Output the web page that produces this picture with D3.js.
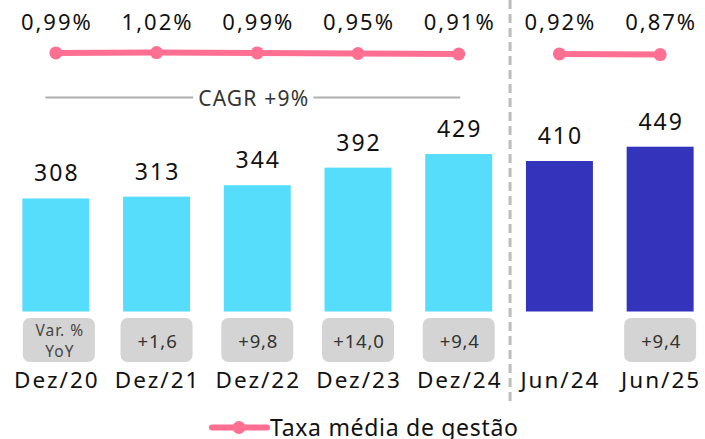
<!DOCTYPE html>
<html>
<head>
<meta charset="utf-8">
<script src="https://cdn.jsdelivr.net/npm/d3@7"></script>
<style>
  html, body { margin: 0; padding: 0; background: #fff; }
  svg { display: block; }
  text { font-family: "Noto Sans", sans-serif; }
</style>
</head>
<body>
<svg id="chart" width="705" height="439"></svg>
<script>
const categories = ["Dez/20", "Dez/21", "Dez/22", "Dez/23", "Dez/24", "Jun/24", "Jun/25"];
const aum = [308, 313, 344, 392, 429, 410, 449];
const fee = [0.99, 1.02, 0.99, 0.95, 0.91, 0.92, 0.87];
const yoy = [null, 1.6, 9.8, 14.0, 9.4, null, 9.4];
const groups = ["dez", "dez", "dez", "dez", "dez", "jun", "jun"];
const cagrLabel = "CAGR +9%";
const yoyHeader = ["Var. %", "YoY"];
const legendLabel = "Taxa média de gestão";

const COL_LIGHT = "#55DDFB";
const COL_DARK = "#3333BB";
const COL_PINK = "#FF6F91";

const svg = d3.select("#chart");

const x = d3.scaleBand().domain(categories).range([5.5, 710.5]).paddingInner(0.335).paddingOuter(0.1675);
const y = d3.scaleLinear().domain([0, 449]).range([311.5, 146.7]);
const yFee = d3.scaleLinear().domain([0.8, 1.1]).range([55.5, 51.5]);
const cx = c => x(c) + x.bandwidth() / 2;

const fmt = v => v.toFixed(1).replace(".", ",");
const fmtPct = v => v.toFixed(2).replace(".", ",") + "%";

// dashed separator
const sepX = (x("Dez/24") + x.bandwidth() + x("Jun/24")) / 2 + 1;
svg.append("line")
  .attr("x1", sepX).attr("x2", sepX).attr("y1", 0).attr("y2", 401)
  .attr("stroke", "#BDBDBD").attr("stroke-width", 3).attr("stroke-dasharray", "9,5");

// bars
svg.selectAll("rect.bar").data(categories).join("rect")
  .attr("class", "bar")
  .attr("x", d => x(d)).attr("width", x.bandwidth())
  .attr("y", (d, i) => y(aum[i])).attr("height", (d, i) => y(0) - y(aum[i]))
  .attr("fill", (d, i) => groups[i] === "dez" ? COL_LIGHT : COL_DARK);

// bar value labels
svg.selectAll("text.val").data(categories).join("text")
  .attr("class", "val")
  .attr("x", d => cx(d) + 1).attr("y", (d, i) => y(aum[i]) - 17)
  .attr("text-anchor", "middle").attr("font-size", 23).attr("letter-spacing", 2)
  .attr("fill", "#111")
  .text((d, i) => aum[i]);

// yoy boxes
const boxW = 72, boxH = 44, boxY = 318;
categories.forEach((c, i) => {
  if (i === 0) {
    svg.append("rect").attr("x", cx(c) - boxW / 2 + 3).attr("y", boxY).attr("width", boxW).attr("height", boxH)
      .attr("rx", 7).attr("fill", "#D4D4D4");
    svg.append("text").attr("x", cx(c) + 4).attr("y", boxY + 18).attr("text-anchor", "middle")
      .attr("font-size", 15.5).attr("letter-spacing", 1).attr("fill", "#444").text(yoyHeader[0]);
    svg.append("text").attr("x", cx(c) + 4).attr("y", boxY + 38.5).attr("text-anchor", "middle")
      .attr("font-size", 15.5).attr("letter-spacing", 1).attr("fill", "#444").text(yoyHeader[1]);
  } else if (yoy[i] !== null) {
    svg.append("rect").attr("x", cx(c) - boxW / 2).attr("y", boxY).attr("width", boxW).attr("height", boxH)
      .attr("rx", 7).attr("fill", "#D4D4D4");
    svg.append("text").attr("x", cx(c) + 1).attr("y", boxY + 29.5).attr("text-anchor", "middle")
      .attr("font-size", 18.5).attr("letter-spacing", 0.8).attr("fill", "#333").text("+" + fmt(yoy[i]));
  }
});

// category axis labels
const xAxis = d3.axisBottom(x).tickSize(0).tickPadding(0);
const gx = svg.append("g").attr("transform", "translate(1,372)").call(xAxis);
gx.select(".domain").remove();
gx.selectAll("text").attr("font-size", 22.5).attr("letter-spacing", 2).attr("fill", "#111")
  .attr("font-family", "'Noto Sans', sans-serif").attr("dy", "0.71em");

// fee line per group
const line = d3.line().x(d => cx(d.c)).y(d => yFee(d.v));
["dez", "jun"].forEach(g => {
  const pts = categories.map((c, i) => ({ c, v: fee[i], g: groups[i] })).filter(d => d.g === g);
  svg.append("path").datum(pts).attr("d", line).attr("fill", "none")
    .attr("stroke", COL_PINK).attr("stroke-width", 6);
  svg.selectAll(null).data(pts).join("circle")
    .attr("cx", d => cx(d.c)).attr("cy", d => yFee(d.v)).attr("r", 6.5).attr("fill", COL_PINK);
});
svg.selectAll("text.pct").data(categories).join("text")
  .attr("class", "pct")
  .attr("x", d => cx(d) + 1).attr("y", 30)
  .attr("text-anchor", "middle").attr("font-size", 22).attr("letter-spacing", 2).attr("fill", "#111")
  .text((d, i) => fmtPct(fee[i]));

// CAGR line
const cagrX1 = x("Dez/20") + 23, cagrX2 = x("Dez/24") + x.bandwidth() - 32;
const cagrMid = (cagrX1 + cagrX2) / 2 + 1;
const cagrText = svg.append("text").attr("x", cagrMid).attr("y", 106)
  .attr("text-anchor", "middle").attr("font-size", 21).attr("letter-spacing", 1.2).attr("fill", "#333")
  .text(cagrLabel);
const tw = cagrText.node().getComputedTextLength();
svg.append("line").attr("x1", cagrX1).attr("x2", cagrMid - tw / 2 - 5).attr("y1", 97.5).attr("y2", 97.5)
  .attr("stroke", "#B0B0B0").attr("stroke-width", 2);
svg.append("line").attr("x1", cagrMid + tw / 2 + 4).attr("x2", cagrX2).attr("y1", 97.5).attr("y2", 97.5)
  .attr("stroke", "#B0B0B0").attr("stroke-width", 2);

// legend
const lg = svg.append("g").attr("transform", "translate(212,427.5)");
lg.append("line").attr("x1", 0).attr("x2", 55).attr("y1", 0).attr("y2", 0)
  .attr("stroke", COL_PINK).attr("stroke-width", 6).attr("stroke-linecap", "round");
lg.append("circle").attr("cx", 27).attr("cy", 0).attr("r", 6.5).attr("fill", COL_PINK);
lg.append("text").attr("x", 58).attr("y", 8.5).attr("font-size", 23).attr("letter-spacing", 0.7).attr("fill", "#111")
  .text(legendLabel);
</script>
</body>
</html>
